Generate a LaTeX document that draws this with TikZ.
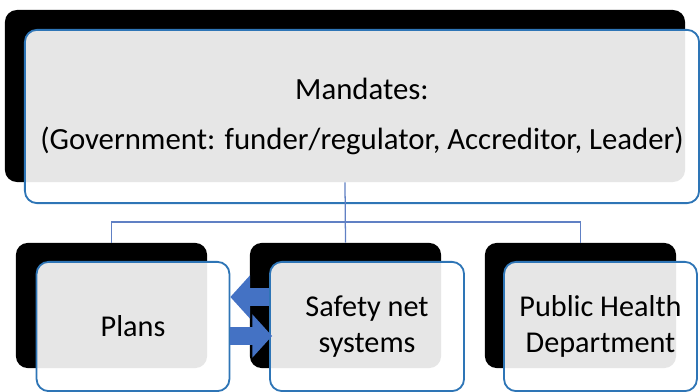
\documentclass[tikz,border=0pt]{standalone}
\usepackage{fontspec}
\setmainfont{Carlito}
\usetikzlibrary{arrows.meta,calc}
\definecolor{boxblue}{RGB}{46,117,182}
\definecolor{linkblue}{RGB}{96,128,196}
\definecolor{arrowblue}{RGB}{68,114,196}
\begin{document}
\begin{tikzpicture}[x=0.025cm,y=-0.025cm,
  backbox/.style={fill=black,rounded corners=0.3cm,inner sep=0pt},
  frontbox/.style={draw=boxblue,line width=1.3pt,fill=white,fill opacity=0.9,text opacity=1,
    rounded corners=0.3cm,align=center,inner sep=0pt},
  link/.style={linkblue,line width=0.9pt},
  blockarrow/.style={arrowblue,line width=12.8pt,-{Triangle[length=14pt,width=30pt]}}]
\useasboundingbox (0,0) rectangle (700,392);
% top box
\node[backbox,minimum width=17cm,minimum height=4.3cm] (topback) at (345,96) {};
\node[frontbox,minimum width=16.85cm,minimum height=4.33cm,font=\fontsize{21.9}{26}\selectfont] (topfront) at (362,116.5)
  {Mandates:\\[10pt](Government: funder/regulator, Accreditor, Leader)};
% bottom boxes
\node[backbox,minimum width=4.78cm,minimum height=3.13cm] (plansback) at (111.5,305.5) {};
\node[backbox,minimum width=4.78cm,minimum height=3.13cm] (safeback) at (345.5,305.5) {};
\node[backbox,minimum width=4.78cm,minimum height=3.13cm] (pubback) at (580.5,305.5) {};
\node[frontbox,minimum width=4.82cm,minimum height=3.23cm,font=\fontsize{21.5}{25}\selectfont] (plansfront) at (133,326.5) {Plans};
\node[frontbox,minimum width=4.85cm,minimum height=3.23cm,font=\fontsize{21.5}{25}\selectfont] (safefront) at (367,326.5) {Safety net\\systems};
\node[frontbox,minimum width=4.82cm,minimum height=3.23cm,font=\fontsize{21.5}{25}\selectfont] (pubfront) at (600.5,326.5) {Public Health\\Department};
% tree lines
\coordinate (bus) at (345,222);
\draw[link] (topback.south) -- (safeback.north);
\draw[link] (plansback.north) |- (bus) -| (pubback.north);
% two-way arrows
\draw[blockarrow] ($(safefront.west)+(0,-29.5)$) -- ($(plansfront.east)+(0,-29.5)$);
\draw[blockarrow] ($(plansfront.east)+(0,9.5)$) -- ($(safefront.west)+(3,9.5)$);
\end{tikzpicture}
\end{document}
